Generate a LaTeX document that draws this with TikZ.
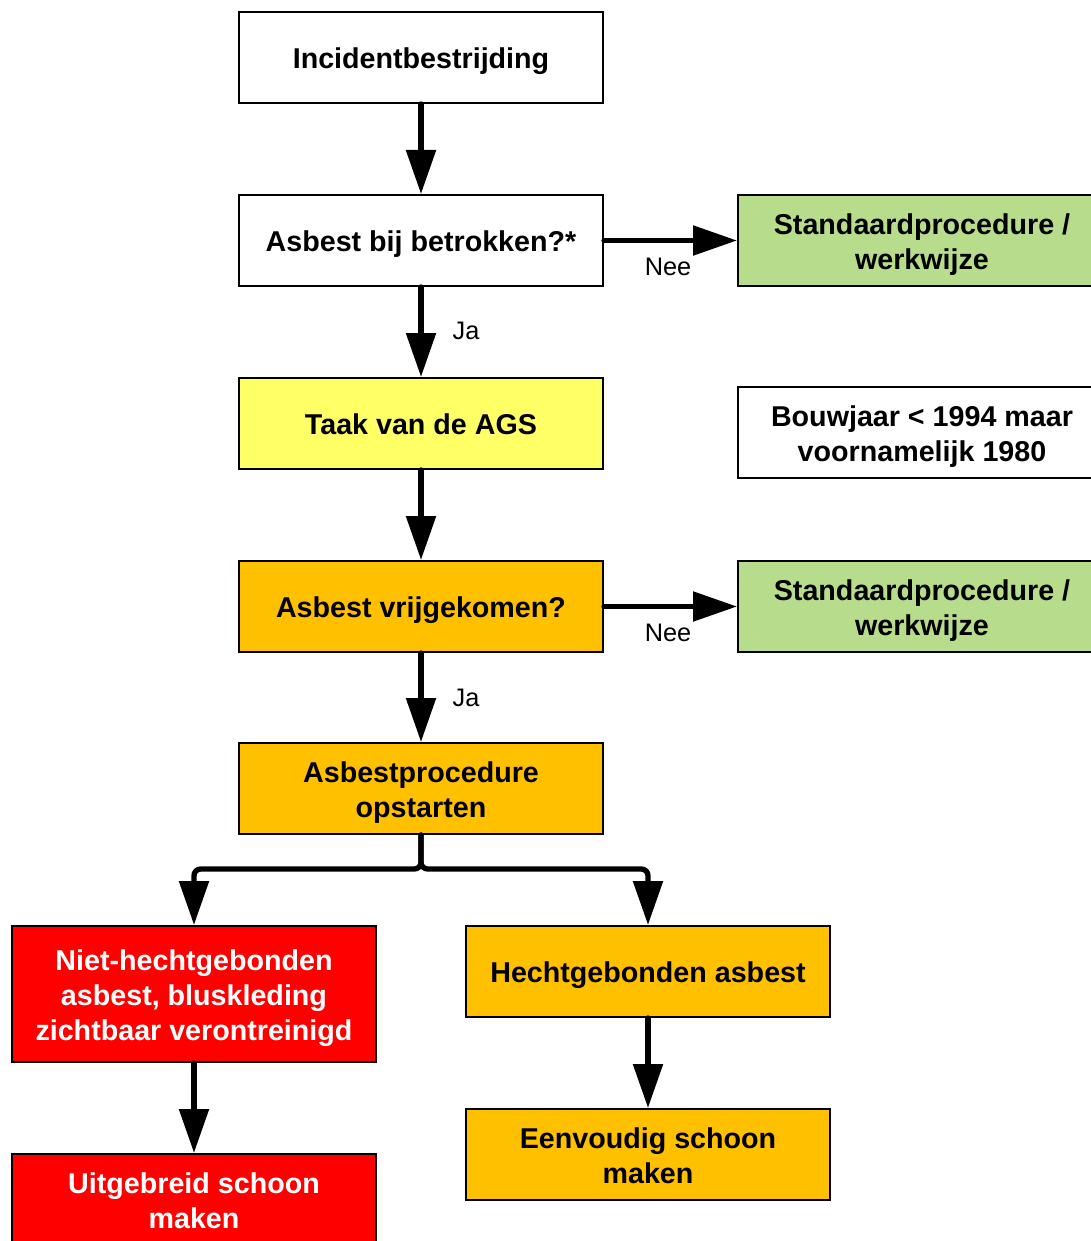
\documentclass[tikz,border=0pt]{standalone}
\usepackage{fontspec}
\setmainfont{Liberation Sans}
\usetikzlibrary{arrows.meta}
\definecolor{cgreen}{RGB}{183,221,140}
\definecolor{cyellow}{RGB}{255,255,102}
\definecolor{corange}{RGB}{255,192,0}
\definecolor{cred}{RGB}{255,0,0}
\newcommand\lnstrut{\rule[-4.7pt]{0pt}{26.2pt}}
\begin{document}
\begin{tikzpicture}[x=0.75pt,y=-0.75pt,
  box/.style={draw=black, line width=1.5pt, minimum width=273pt, minimum height=68.25pt,
    align=center, inner sep=0pt, font=\bfseries\fontsize{21.5}{26.25}\selectfont},
  widebox/.style={box, minimum width=276pt},
  tallbox/.style={box, minimum height=102pt},
  arr/.style={line width=4pt, line cap=round, -{Triangle[length=33pt,width=21.75pt]}},
  lbl/.style={font=\fontsize{19}{22}\selectfont, inner sep=0pt}]
\useasboundingbox (0,0) rectangle (1091,1241);
\fill[white] (0,0) rectangle (1091,1241);

\node[box, fill=white] (inc) at (421,57.5) {\lnstrut Incidentbestrijding};
\node[box, fill=white] (q1) at (421,240.5) {\lnstrut Asbest bij betrokken?*};
\node[widebox, fill=cgreen] (std1) at (922,240.5) {\lnstrut Standaardprocedure /\\\lnstrut werkwijze};
\node[box, fill=cyellow] (ags) at (421,423.5) {\lnstrut Taak van de AGS};
\node[widebox, fill=white] (bouw) at (922,432.5) {\lnstrut Bouwjaar < 1994 maar\\\lnstrut voornamelijk 1980};
\node[box, fill=corange] (q2) at (421,606.5) {\lnstrut Asbest vrijgekomen?};
\node[widebox, fill=cgreen] (std2) at (922,606.5) {\lnstrut Standaardprocedure /\\\lnstrut werkwijze};
\node[box, fill=corange] (proc) at (421,788.5) {\lnstrut Asbestprocedure\\\lnstrut opstarten};
\node[tallbox, fill=cred, text=white] (niet) at (194,994) {\lnstrut Niet-hechtgebonden\\\lnstrut asbest, bluskleding\\\lnstrut zichtbaar verontreinigd};
\node[box, fill=corange] (hecht) at (648,971.5) {\lnstrut Hechtgebonden asbest};
\node[box, fill=corange] (eenv) at (648,1154.5) {\lnstrut Eenvoudig schoon\\\lnstrut maken};
\node[box, fill=cred, text=white] (uitg) at (194,1199.5) {\lnstrut Uitgebreid schoon\\\lnstrut maken};

\node[lbl] (nee1) at (668,267) {Nee};
\node[lbl] (ja1) at (466,331) {Ja};
\node[lbl] (nee2) at (668,633) {Nee};
\node[lbl] (ja2) at (466,698) {Ja};

\coordinate (br) at (421,869);

\draw[arr] (inc.south) -- (q1.north);
\draw[arr] (q1.east) -- (std1.west);
\draw[arr] (q1.south) -- (ags.north);
\draw[arr] (ags.south) -- (q2.north);
\draw[arr] (q2.east) -- (std2.west);
\draw[arr] (q2.south) -- (proc.north);
\draw[arr, rounded corners=5pt] (proc.south) -- (br) -| (niet.north);
\draw[arr, rounded corners=5pt] (proc.south) -- (br) -| (hecht.north);
\draw[arr] (niet.south) -- (uitg.north);
\draw[arr] (hecht.south) -- (eenv.north);
\end{tikzpicture}
\end{document}
